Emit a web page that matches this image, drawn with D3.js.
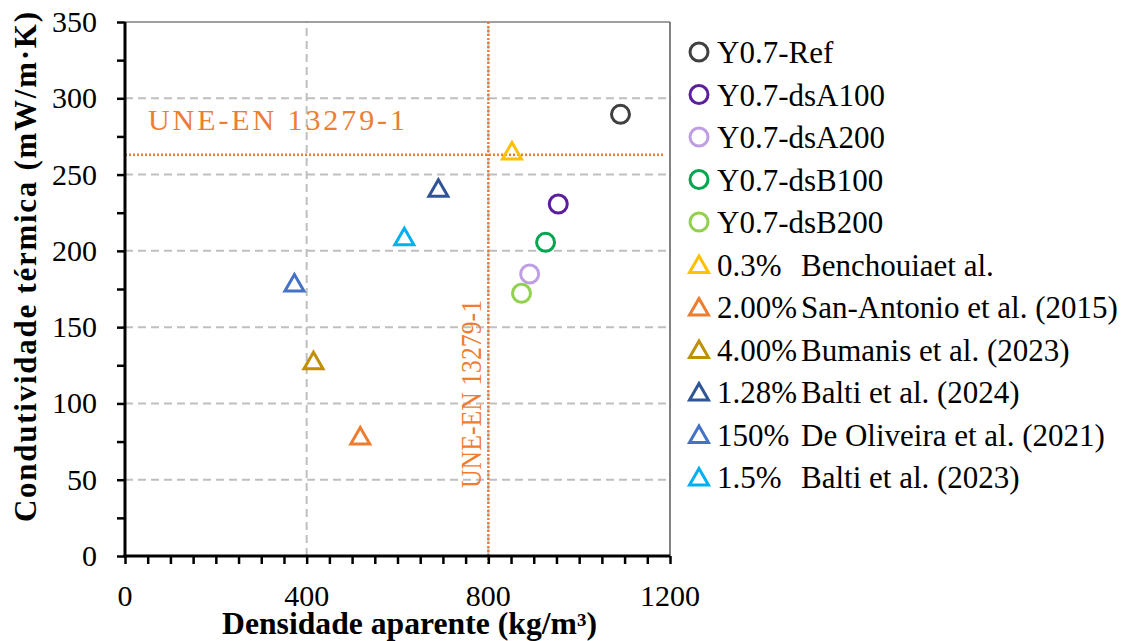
<!DOCTYPE html>
<html>
<head>
<meta charset="utf-8">
<script src="https://cdn.jsdelivr.net/npm/d3@7"></script>
<style>
  html, body { margin: 0; padding: 0; background: #fff; }
  svg text { font-family: "Times New Roman", Times, "Liberation Serif", "Nimbus Roman", serif; }
</style>
</head>
<body>
<svg id="chart" width="1132" height="641"></svg>
<script>
// ---- Data ----
const seriesLabels = ["Y0.7-Ref", "Y0.7-dsA100", "Y0.7-dsA200", "Y0.7-dsB100", "Y0.7-dsB200",
  "0.3%", "2.00%", "4.00%", "1.28%", "150%", "1.5%"];
const seriesAuthors = ["", "", "", "", "",
  "Benchouiaet al.", "San-Antonio et al. (2015)", "Bumanis et al. (2023)", "Balti et al. (2024)",
  "De Oliveira et al. (2021)", "Balti et al. (2023)"];
const seriesShapes = ["circle", "circle", "circle", "circle", "circle",
  "triangle", "triangle", "triangle", "triangle", "triangle", "triangle"];
const seriesColors = ["#404040", "#5B1F9E", "#BF9FE3", "#00A74F", "#92D050",
  "#FFC000", "#ED7D31", "#BF9000", "#2F5597", "#4472C4", "#00B0F0"];
const densities = [1091, 954, 891, 926, 873, 852, 518, 415, 690, 373, 615];
const conductivities = [289.5, 230.7, 184.8, 205.6, 172.2, 265.4, 78.6, 128, 241, 179, 209.3];

const xTicks = [0, 400, 800, 1200];
const yTicks = [0, 50, 100, 150, 200, 250, 300, 350];
const xGrid = [400, 800];
const yGrid = [50, 100, 150, 200, 250, 300];
const limitDensity = 800;
const limitConductivity = 263;
const limitLabel = "UNE-EN 13279-1";

// ---- Layout ----
const FONT = '"Times New Roman", Times, "Liberation Serif", "Nimbus Roman", serif';
const svg = d3.select("#chart").attr("font-family", FONT);
svg.append("rect").attr("width", 1132).attr("height", 641).attr("fill", "#fff");

const x = d3.scaleLinear().domain([0, 1200]).range([125, 670]);
const y = d3.scaleLinear().domain([0, 350]).range([556, 22]);

// Gridlines
svg.append("g").selectAll("line").data(yGrid).join("line")
  .attr("x1", x(0)).attr("x2", x(1200))
  .attr("y1", d => y(d)).attr("y2", d => y(d))
  .attr("stroke", "#BFBFBF").attr("stroke-width", 2).attr("stroke-dasharray", "8,5");
svg.append("g").selectAll("line").data(xGrid).join("line")
  .attr("x1", d => x(d)).attr("x2", d => x(d))
  .attr("y1", y(0)).attr("y2", y(350))
  .attr("stroke", "#BFBFBF").attr("stroke-width", 2).attr("stroke-dasharray", "8,5");

// Frame top/right
svg.append("line").attr("x1", x(0)).attr("x2", x(1200)).attr("y1", y(350)).attr("y2", y(350))
  .attr("stroke", "#7F7F7F").attr("stroke-width", 1.5);
svg.append("line").attr("x1", x(1200)).attr("x2", x(1200)).attr("y1", y(350)).attr("y2", y(0))
  .attr("stroke", "#595959").attr("stroke-width", 1.5);

// Limit lines
svg.append("line").attr("x1", x(0)).attr("x2", x(1185))
  .attr("y1", y(limitConductivity)).attr("y2", y(limitConductivity))
  .attr("stroke", "#ED7D31").attr("stroke-width", 2.5).attr("stroke-dasharray", "2,2");
svg.append("line").attr("x1", x(limitDensity)).attr("x2", x(limitDensity))
  .attr("y1", y(350)).attr("y2", y(-6))
  .attr("stroke", "#ED7D31").attr("stroke-width", 2.5).attr("stroke-dasharray", "2,2");

// Limit labels
svg.append("text").attr("x", 148).attr("y", 130)
  .attr("fill", "#ED7D31").attr("font-size", 30)
  .attr("textLength", 257).attr("lengthAdjust", "spacing")
  .text(limitLabel);
svg.append("text")
  .attr("transform", `translate(481,488) rotate(-90)`)
  .attr("fill", "#ED7D31").attr("font-size", 29)
  .attr("textLength", 188).attr("lengthAdjust", "spacingAndGlyphs")
  .text(limitLabel);

// Axes
const yAxis = d3.axisLeft(y).tickValues(d3.range(0, 351, 25)).tickSize(8).tickFormat("");
const gy = svg.append("g").attr("transform", `translate(${x(0)},0)`).call(yAxis);
gy.select(".domain").attr("stroke", "#000").attr("stroke-width", 3).attr("d", `M0,${y(350)}V${y(0) + 1.5}`);
gy.selectAll(".tick line").attr("stroke", "#000").attr("stroke-width", 2.5);

const xAxis = d3.axisBottom(x).tickValues(d3.range(0, 1201, 50)).tickSize(8).tickFormat("");
const gx = svg.append("g").attr("transform", `translate(0,${y(0)})`).call(xAxis);
gx.select(".domain").attr("stroke", "#000").attr("stroke-width", 3).attr("d", `M${x(0) - 1.5},0H${x(1200)}`);
gx.selectAll(".tick line").attr("stroke", "#000").attr("stroke-width", 2.5);

// Tick labels
svg.append("g").selectAll("text").data(yTicks).join("text")
  .attr("x", 97).attr("y", d => y(d) + 10)
  .attr("text-anchor", "end").attr("font-size", 30).attr("fill", "#000")
  .text(d => d);
svg.append("g").selectAll("text").data(xTicks).join("text")
  .attr("x", d => x(d)).attr("y", 606)
  .attr("text-anchor", "middle").attr("font-size", 30).attr("fill", "#000")
  .text(d => d);

// Axis titles
svg.append("text").attr("x", 222).attr("y", 634)
  .attr("font-size", 31).attr("font-weight", "bold")
  .attr("textLength", 375).attr("lengthAdjust", "spacingAndGlyphs")
  .text("Densidade aparente (kg/m³)");
svg.append("text").attr("transform", "translate(36,522) rotate(-90)")
  .attr("font-size", 31).attr("font-weight", "bold")
  .attr("textLength", 510).attr("lengthAdjust", "spacing")
  .text("Condutividade  térmica (mW/m·K)");

// Marks
const triPath = "M0,-8.5L9.5,8L-9.5,8Z";
const idx = d3.range(densities.length);
const marks = svg.append("g");
idx.forEach(i => {
  if (seriesShapes[i] === "circle") {
    marks.append("circle").attr("cx", x(densities[i])).attr("cy", y(conductivities[i]))
      .attr("r", 9).attr("fill", "none").attr("stroke", seriesColors[i]).attr("stroke-width", 3);
  } else {
    marks.append("path").attr("d", triPath)
      .attr("transform", `translate(${x(densities[i])},${y(conductivities[i])})`)
      .attr("fill", "none").attr("stroke", seriesColors[i]).attr("stroke-width", 3)
      .attr("stroke-linejoin", "miter");
  }
});

// Legend
const legend = svg.append("g");
idx.forEach(i => {
  const cy = 52 + 42.5 * i;
  if (seriesShapes[i] === "circle") {
    legend.append("circle").attr("cx", 699).attr("cy", cy).attr("r", 9)
      .attr("fill", "none").attr("stroke", seriesColors[i]).attr("stroke-width", 3);
  } else {
    legend.append("path").attr("d", triPath).attr("transform", `translate(699,${cy})`)
      .attr("fill", "none").attr("stroke", seriesColors[i]).attr("stroke-width", 3);
  }
  legend.append("text").attr("x", 717).attr("y", cy + 11)
    .attr("font-size", 31).attr("fill", "#000").text(seriesLabels[i]);
  if (seriesAuthors[i]) {
    legend.append("text").attr("x", 801).attr("y", cy + 11)
      .attr("font-size", 31).attr("fill", "#000").text(seriesAuthors[i]);
  }
});
</script>
</body>
</html>
